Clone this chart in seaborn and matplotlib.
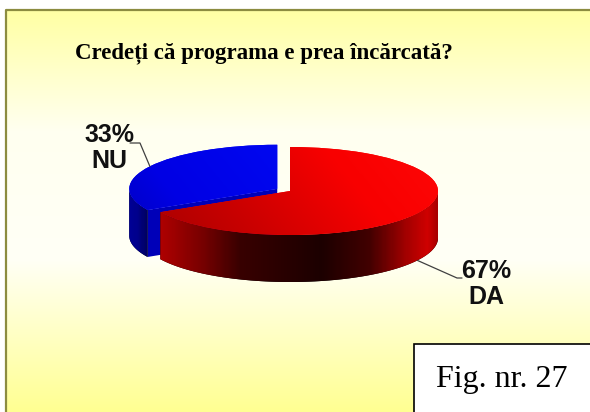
###############################################################################
###  3D pie chart: "Credeți că programa e prea încărcată?"                  ###
###############################################################################

import numpy as np
import matplotlib.pyplot as plt
import matplotlib.colors as mcolors
from matplotlib.patches import Polygon, Rectangle
from matplotlib.transforms import Affine2D
import seaborn as sns

#------------------------------------------------------------------------------
### Data

labels = ['DA', 'NU']
values = [67, 33]
explode = [0, 0.1]
title = 'Credeți că programa e prea încărcată?'
fig_label = 'Fig. nr. 27'

#------------------------------------------------------------------------------
### Layout constants (pixel coordinates, y pointing down)

W, H = 590, 412
CX, CY = 290, 191       # centre of the top ellipse
RX, RY = 148, 44        # radii of the top ellipse
DEPTH = 47              # height of the pie wall

# text centre and leader line end points (elbow, end) per label
LABEL_POS = {'DA': (486, 284), 'NU': (109, 148)}
LEADER = {'DA': [(457, 278), (462, 278)], 'NU': [(140, 143), (130, 143)]}

# gradient colours per slice: top face and wall
TOP_CMAP = {
	'DA': [(0, '#8E0000'), (0.4, '#C80000'), (0.72, '#F80000'), (1, '#FF0808')],
	'NU': [(0, '#0000A8'), (0.3, '#0000E4'), (1, '#0010FF')],
}
WALL_CMAP = {
	'DA': [(0, '#B00000'), (0.12, '#B00000'), (0.25, '#780000'), (0.37, '#380000'),
		(0.62, '#1C0000'), (0.77, '#420000'), (0.88, '#A00000'), (0.95, '#D00000'),
		(1, '#900000')],
	'NU': [(0, '#0000A0'), (0.05, '#00008C'), (0.1, '#000040'), (0.14, '#000008'),
		(1, '#000000')],
}
# colour of the cut face of a slice
CUT_COLOR = {'DA': '#500000', 'NU': '#0000B8'}
GRAD_EXTENT = (120, 445, 295, 140)

#------------------------------------------------------------------------------
### Figure

sns.set_style('white')
plt.rcParams['font.family'] = ['Liberation Sans Narrow', 'Liberation Sans',
	'DejaVu Sans']

fig = plt.figure(figsize=(W / 100, H / 100), dpi=100)
ax = fig.add_axes([0, 0, 1, 1])

# Background gradient and frame
bg_cmap = mcolors.LinearSegmentedColormap.from_list('bg',
	[(0, '#FFFFA4'), (0.3, '#FFFFF0'), (0.62, '#FFFFF6'), (1, '#FFFF92')])
ax.imshow(np.linspace(0, 1, 256).reshape(-1, 1), cmap=bg_cmap,
	extent=(6, W, H, 10), aspect='auto', zorder=0)
ax.plot([6, 6, W], [H, 10, 10], color='#8C8C40', lw=1.6, zorder=1,
	solid_capstyle='butt')

# Top faces from the pie (unit circle squashed into an ellipse)
wedges, _ = ax.pie(values, explode=explode, startangle=90, counterclock=False,
	radius=1)
T = Affine2D().scale(RX, -RY).translate(CX, CY) + ax.transData


def gradient_image(cmap_stops, zorder, clip, two_d=False):
	cmap = mcolors.LinearSegmentedColormap.from_list('g', cmap_stops)
	xs = np.linspace(0, 1, 300)
	if two_d:
		ys = np.linspace(0, 1, 150)
		X, Y = np.meshgrid(xs, ys)
		arr = 0.72 * X + 0.28 * (1 - Y)
	else:
		arr = xs.reshape(1, -1)
	im = ax.imshow(arr, cmap=cmap, vmin=0, vmax=1, extent=GRAD_EXTENT,
		aspect='auto', interpolation='bilinear', zorder=zorder)
	im.set_clip_path(clip)
	return im


def wall_polygons(w):
	ox, oy = w.center
	t1, t2 = w.theta1, w.theta2
	walls, cuts = [], []
	d = DEPTH / RY
	# outer wall: only the front half (lower half of the ellipse)
	for k in range(-2, 2):
		a, b = max(t1, 180 + 360 * k), min(t2, 360 + 360 * k)
		if b > a:
			th = np.radians(np.linspace(a, b, 80))
			top = np.column_stack([ox + np.cos(th), oy + np.sin(th)])
			bot = top[::-1] - [0, d]
			walls.append(np.vstack([top, bot]))
	# radial faces that point towards the viewer
	for ang, normal in [(t1, t1 - 90), (t2, t2 + 90)]:
		if np.sin(np.radians(normal)) < -1e-6:
			r = np.radians(ang)
			p = np.array([[ox, oy], [ox + np.cos(r), oy + np.sin(r)]])
			cuts.append(np.vstack([p, p[::-1] - [0, d]]))
	return walls, cuts


# draw the back slice first (NU), then DA in front
order = [1, 0]
for z, i in enumerate(order):
	w = wedges[i]
	lab = labels[i]
	base = 2 + 3 * z
	walls, cuts = wall_polygons(w)
	for poly in cuts:
		ax.add_patch(Polygon(poly, closed=True, transform=T,
			facecolor=CUT_COLOR[lab], edgecolor='none', zorder=base))
	for poly in walls:
		patch = Polygon(poly, closed=True, transform=T, facecolor='black',
			edgecolor='none', zorder=base)
		ax.add_patch(patch)
		gradient_image(WALL_CMAP[lab], base + 0.5, patch)
	w.set_transform(T)
	w.set_facecolor('red' if lab == 'DA' else 'blue')
	w.set_edgecolor('none')
	w.set_zorder(base + 1)
	gradient_image(TOP_CMAP[lab], base + 1.5, w, two_d=True)

# Labels with leader lines
total = sum(values)
for i, w in enumerate(wedges):
	lab = labels[i]
	ox, oy = w.center
	mid = np.radians((w.theta1 + w.theta2) / 2)
	px = CX + RX * (ox + np.cos(mid))
	py = CY - RY * (oy + np.sin(mid))
	if np.sin(mid) < 0:
		py += DEPTH
	(ex, ey), (fx, fy) = LEADER[lab]
	ax.plot([px, ex, fx], [py, ey, fy], color='#404040', lw=0.9, zorder=12)
	tx, ty = LABEL_POS[lab]
	pct = '%d%%' % round(100 * values[i] / total)
	ax.text(tx, ty, pct + '\n' + lab, ha='center', va='center', fontsize=18,
		fontweight='bold', color='#111111', linespacing=1.15, zorder=12)

# Title
ax.text(264, 58, title, ha='center', va='baseline', fontsize=16.5,
	fontweight='bold', color='black', family=['Liberation Serif', 'DejaVu Serif'],
	zorder=12)

# Figure number box
ax.add_patch(Rectangle((414, 344), 200, 100, facecolor='white',
	edgecolor='black', lw=1.2, zorder=13))
ax.text(502, 387, fig_label, ha='center', va='baseline', fontsize=23,
	color='black', family=['Liberation Serif', 'DejaVu Serif'], zorder=14)

ax.set_xlim(0, W)
ax.set_ylim(H, 0)
ax.set_aspect('auto')
ax.axis('off')

fig.savefig('out.png', dpi=100, facecolor='white')
plt.close(fig)
